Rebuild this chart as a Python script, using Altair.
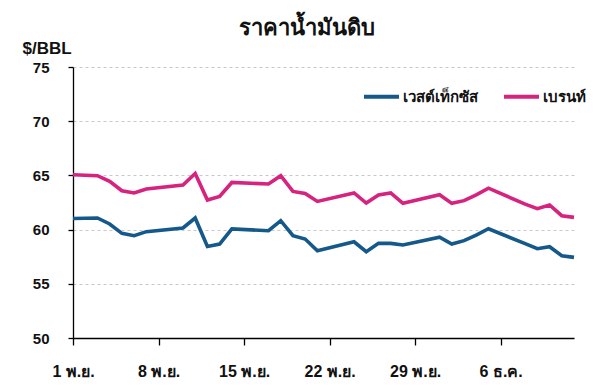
import altair as alt
import pandas as pd

# ---- data ----
dates = [
    "2025-11-01", "2025-11-03", "2025-11-04", "2025-11-05", "2025-11-06", "2025-11-07",
    "2025-11-10", "2025-11-11", "2025-11-12", "2025-11-13", "2025-11-14",
    "2025-11-17", "2025-11-18", "2025-11-19", "2025-11-20", "2025-11-21",
    "2025-11-24", "2025-11-25", "2025-11-26", "2025-11-27", "2025-11-28",
    "2025-12-01", "2025-12-02", "2025-12-03", "2025-12-04", "2025-12-05",
    "2025-12-08", "2025-12-09", "2025-12-10", "2025-12-11", "2025-12-12",
]
wti = [
    61.03, 61.07, 60.52, 59.65, 59.44, 59.81,
    60.15, 61.07, 58.45, 58.67, 60.06,
    59.90, 60.82, 59.44, 59.13, 58.05,
    58.88, 57.96, 58.73, 58.73, 58.58,
    59.30, 58.67, 58.98, 59.50, 60.08,
    58.70, 58.24, 58.42, 57.59, 57.44,
]
brent = [
    65.06, 64.97, 64.45, 63.59, 63.38, 63.75,
    64.11, 65.18, 62.73, 63.06, 64.35,
    64.21, 64.97, 63.52, 63.34, 62.60,
    63.38, 62.45, 63.19, 63.38, 62.42,
    63.22, 62.42, 62.67, 63.20, 63.82,
    62.35, 61.93, 62.27, 61.28, 61.13,
]
series_names = ["เวสต์เท็กซัส", "เบรนท์"]
series_colors = ["#14598a", "#d5237f"]
x_tick_dates = ["2025-11-01", "2025-11-08", "2025-11-15", "2025-11-22", "2025-11-29", "2025-12-06"]
x_tick_labels = ["1 พ.ย.", "8 พ.ย.", "15 พ.ย.", "22 พ.ย.", "29 พ.ย.", "6 ธ.ค."]
x_domain = ["2025-11-01", "2025-12-12"]
y_ticks = [50, 55, 60, 65, 70, 75]
title_text = "ราคาน้ำมันดิบ"
y_title = "$/BBL"

rows = []
for name, vals in zip(series_names, [wti, brent]):
    for d, v in zip(dates, vals):
        rows.append({"date": d, "price": v, "series": name})
df = pd.DataFrame(rows)


def dt(s):
    y, m, d = (int(p) for p in s.split("-"))
    return alt.DateTime(year=y, month=m, date=d, utc=True)


label_expr = "''"
for d, l in reversed(list(zip(x_tick_dates, x_tick_labels))):
    label_expr = f"utcFormat(datum.value, '%Y-%m-%d') == '{d}' ? '{l}' : ({label_expr})"

FONT = "Liberation Sans"

chart = (
    alt.Chart(df)
    .mark_line(strokeWidth=3.6)
    .encode(
        x=alt.X(
            "date:T",
            scale=alt.Scale(type="utc", domain=[dt(x_domain[0]), dt(x_domain[1])], nice=False),
            axis=alt.Axis(
                title=None,
                values=[dt(s) for s in x_tick_dates],
                labelExpr=label_expr,
                grid=False,
                tickSize=7,
                tickColor="#000000",
                tickWidth=1.3,
                domainColor="#000000",
                domainWidth=1.3,
                labelPadding=18,
                labelFontSize=16,
                labelFontWeight="bold",
                labelColor="#111111",
                labelFont=FONT,
                labelAlign="center",
            ),
        ),
        y=alt.Y(
            "price:Q",
            scale=alt.Scale(domain=[y_ticks[0], y_ticks[-1]], nice=False, zero=False),
            axis=alt.Axis(
                title=y_title,
                titleAngle=0,
                titleAlign="left",
                titleBaseline="alphabetic",
                titleX=-51,
                titleY=-14,
                titleFontSize=17,
                titleFontWeight="bold",
                titleFont=FONT,
                titleColor="#111111",
                values=y_ticks,
                grid=True,
                gridDash=[3, 3],
                gridColor="#c8c8c8",
                gridWidth=1,
                tickSize=5,
                tickColor="#000000",
                tickWidth=1.3,
                domainColor="#000000",
                domainWidth=1.3,
                labelPadding=19,
                labelFontSize=15,
                labelFontWeight="bold",
                labelFont=FONT,
                labelColor="#111111",
            ),
        ),
        color=alt.Color(
            "series:N",
            scale=alt.Scale(domain=series_names, range=series_colors),
            sort=series_names,
            legend=alt.Legend(
                title=None,
                orient="none",
                legendX=289,
                legendY=10,
                direction="horizontal",
                symbolType="stroke",
                symbolSize=1225,
                symbolStrokeWidth=4,
                labelFontSize=15,
                labelFontWeight="bold",
                labelFont=FONT,
                labelColor="#111111",
                labelOffset=2,
                columnPadding=18,
            ),
        ),
    )
    .properties(
        width=501,
        height=271,
        title=alt.TitleParams(
            title_text,
            anchor="middle",
            frame="group",
            dx=-17,
            offset=-18,
            baseline="alphabetic",
            fontSize=22,
            fontWeight="bold",
            font=FONT,
            color="#111111",
        ),
        autosize=alt.AutoSizeParams(type="none"),
        padding={"left": 65, "top": 59, "right": 18, "bottom": 45},
    )
    .configure_view(stroke=None)
)

chart.save("out.html", embed_options={"renderer": "svg", "actions": False})
